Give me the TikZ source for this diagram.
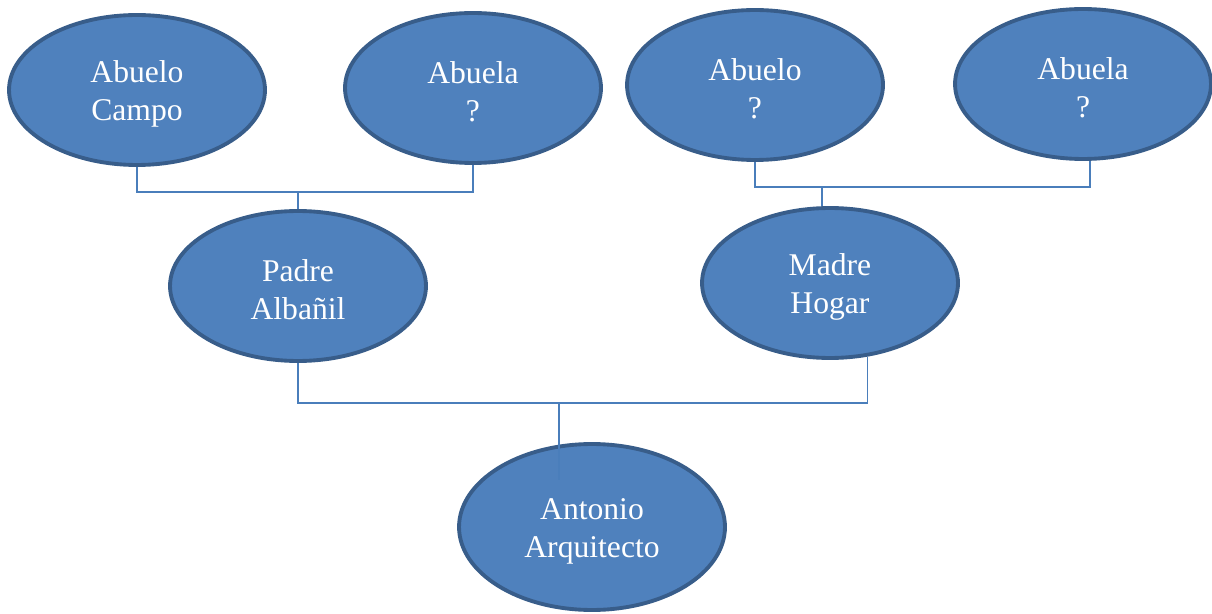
\documentclass[tikz,border=0pt]{standalone}
\usepackage{fontspec}
\setmainfont{Liberation Serif}
\usepackage{tikz}
\usetikzlibrary{shapes.geometric}
\definecolor{personfill}{HTML}{4F81BD}
\definecolor{persondraw}{HTML}{385D8A}
\definecolor{linkblue}{HTML}{4A7EBB}
\newcommand{\pstrut}{\rule{0pt}{17pt}}

\tikzset{
    person/.style={ellipse, draw=persondraw, fill=personfill, line width=2.2pt,
        text=white, font=\fontsize{18}{21.6}\selectfont, align=center,
        inner sep=0pt, minimum width=5.12cm, minimum height=3cm},
    link/.style={draw=linkblue, line width=1pt}
}

\begin{document}
\begin{tikzpicture}[x=0.02cm,y=-0.02cm]
    \useasboundingbox (0,0) rectangle (1212,614);

    % Grandparents
    \node[person] (abuelocampo) at (137,90) {\pstrut Abuelo\\Campo};
    \node[person] (abuelap) at (473,88) {\pstrut Abuela\\?};
    \node[person] (abuelom) at (755,85) {\pstrut Abuelo\\?};
    \node[person] (abuelam) at (1083,84) {\pstrut Abuela\\?};

    % Parents
    \node[person] (padre) at (298,286) {\pstrut Padre\\Albañil};
    \node[person] (madre) at (830,283) {\pstrut Madre\\Hogar};

    % Child
    \node[person, minimum width=5.32cm, minimum height=3.32cm] (antonio) at (592,527) {\pstrut Antonio\\Arquitecto};

    % Junctions
    \coordinate (jpadre) at (298,192);
    \coordinate (jmadre) at (822,187);
    \coordinate (jhijo) at (559,403);
    \coordinate (jend) at (559,480);

    % Links
    \draw[link] (abuelocampo.south) |- (jpadre) -| (abuelap.south);
    \draw[link] (jpadre) -- (padre.north);
    \draw[link] (abuelom.south) |- (jmadre) -| (abuelam.-85);
    \draw[link] (jmadre) -- (jmadre |- madre.north);
    \draw[link] (padre.south) |- (jhijo) -| (madre.-63);
    \draw[link] (jhijo) -- (jend);
\end{tikzpicture}
\end{document}
